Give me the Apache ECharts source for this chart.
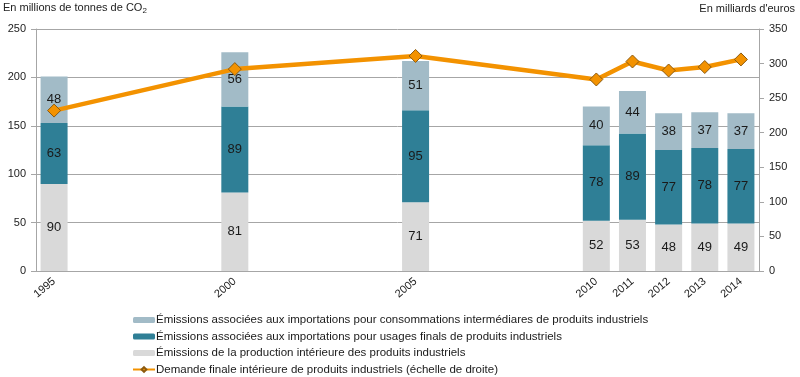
<!DOCTYPE html>
<html>
<head>
<meta charset="utf-8">
<script src="https://cdn.jsdelivr.net/npm/echarts@6/dist/echarts.min.js"></script>
<style>
  html, body { margin: 0; padding: 0; background: #fff; }
  #chart { width: 800px; height: 377px; }
</style>
</head>
<body>
<div id="chart"></div>
<script>
// tous les ans de l'axe, seuls certains ont des données
const years = ['1995', '1996', '1997', '1998', '1999', '2000', '2001', '2002', '2003', '2004',
  '2005', '2006', '2007', '2008', '2009', '2010', '2011', '2012', '2013', '2014'];
const dataYears = ['1995', '2000', '2005', '2010', '2011', '2012', '2013', '2014'];

const production = [90, 81, 71, 52, 53, 48, 49, 49];
const usagesFinals = [63, 89, 95, 78, 89, 77, 78, 77];
const consoInter = [48, 56, 51, 40, 44, 38, 37, 37];
const demande = [232, 292, 311, 277, 303, 290, 295, 306];

const leftTicks = [0, 50, 100, 150, 200, 250];
const rightTicks = [0, 50, 100, 150, 200, 250, 300, 350];

const names = [
  'Émissions associées aux importations pour consommations intermédiares de produits industriels',
  'Émissions associées aux importations pour usages finals de produits industriels',
  'Émissions de la production intérieure des produits industriels',
  'Demande finale intérieure de produits industriels (échelle de droite)'
];

// on remet les valeurs sur tous les ans (null si pas de donnée)
function spread(values) {
  return years.map(y => {
    const i = dataYears.indexOf(y);
    return i >= 0 ? values[i] : null;
  });
}

const font = 'Liberation Sans, Arial, sans-serif';
const grey = '#a6a6a6';

const barLabel = {
  show: true,
  position: 'inside',
  color: '#1a1a1a',
  fontSize: 13,
  fontFamily: font
};

const chart = echarts.init(document.getElementById('chart'));
chart.setOption({
  animation: false,
  textStyle: { fontFamily: font },
  grid: { left: 36, right: 41, top: 29, bottom: 106 },
  graphic: [
    {
      type: 'text', left: 3, top: 2,
      style: {
        text: '{a|En millions de tonnes de CO}{s|2}',
        rich: {
          a: { fontSize: 11, fontFamily: font, fill: '#222' },
          s: { fontSize: 8, fontFamily: font, fill: '#222', padding: [6, 0, 0, 0] }
        }
      }
    },
    {
      type: 'text', right: 5, top: 3,
      style: { text: 'En milliards d\'euros', fontSize: 11, fontFamily: font, fill: '#222' }
    }
  ],
  legend: {
    orient: 'vertical',
    left: 132,
    top: 313,
    padding: 0,
    itemWidth: 22,
    itemHeight: 6,
    itemGap: 2.5,
    textStyle: { fontSize: 11.5, lineHeight: 14, color: '#1a1a1a', fontFamily: font, padding: [0, 0, 0, -4] },
    data: names
  },
  xAxis: {
    type: 'category',
    data: years,
    axisLine: { lineStyle: { color: grey } },
    axisTick: { interval: 0, length: 5, lineStyle: { color: grey } },
    axisLabel: {
      interval: 0,
      rotate: 40,
      fontSize: 11,
      color: '#222',
      margin: 9,
      formatter: v => (dataYears.indexOf(v) >= 0 ? v : '')
    }
  },
  yAxis: [
    {
      type: 'value',
      min: leftTicks[0],
      max: leftTicks[leftTicks.length - 1],
      interval: 50,
      axisLine: { show: true, lineStyle: { color: grey } },
      axisTick: { show: true, length: 5, lineStyle: { color: grey } },
      axisLabel: { fontSize: 11, color: '#222', margin: 10 },
      splitLine: { lineStyle: { color: grey } }
    },
    {
      type: 'value',
      min: rightTicks[0],
      max: rightTicks[rightTicks.length - 1],
      interval: 50,
      axisLine: { show: true, lineStyle: { color: grey } },
      axisTick: { show: true, length: 5, lineStyle: { color: grey } },
      axisLabel: { fontSize: 11, color: '#222', margin: 10 },
      splitLine: { show: false }
    }
  ],
  series: [
    {
      name: names[2],
      type: 'bar',
      stack: 'co2',
      barWidth: 27,
      itemStyle: { color: '#d9d9d9' },
      label: barLabel,
      data: spread(production)
    },
    {
      name: names[1],
      type: 'bar',
      stack: 'co2',
      itemStyle: { color: '#2f7f96' },
      label: barLabel,
      data: spread(usagesFinals)
    },
    {
      name: names[0],
      type: 'bar',
      stack: 'co2',
      itemStyle: { color: '#a2bbc7' },
      label: barLabel,
      data: spread(consoInter)
    },
    {
      name: names[3],
      type: 'line',
      yAxisIndex: 1,
      connectNulls: true,
      symbol: 'diamond',
      symbolSize: 13,
      lineStyle: { color: '#f39200', width: 4.5 },
      itemStyle: { color: '#f39200', borderColor: '#8b5a10', borderWidth: 1 },
      z: 5,
      data: spread(demande)
    }
  ]
});
</script>
</body>
</html>
